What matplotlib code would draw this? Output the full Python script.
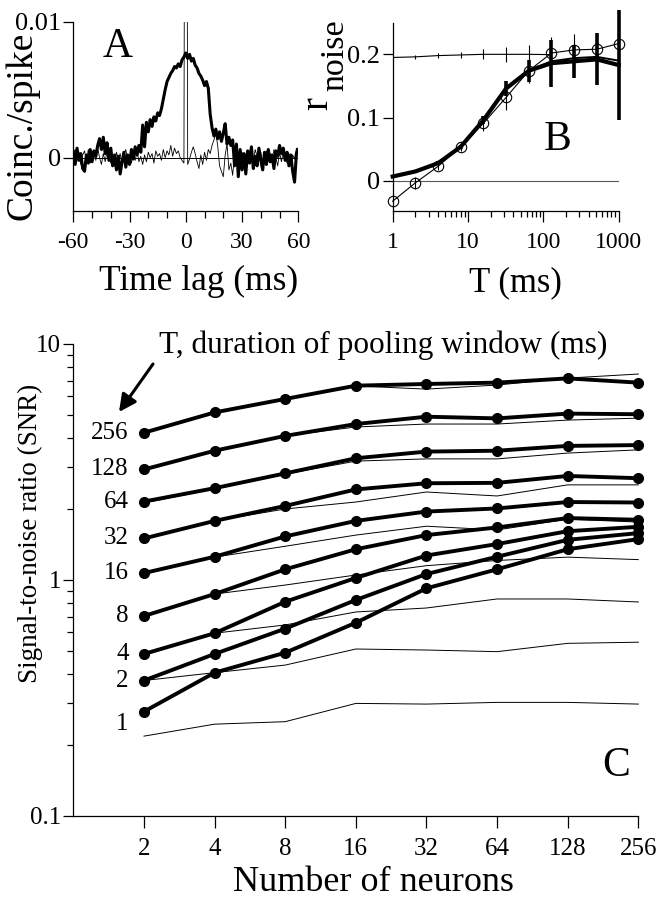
import numpy as np
import matplotlib
matplotlib.use("Agg")
import matplotlib.pyplot as plt
from matplotlib.ticker import FixedLocator, NullFormatter, LogLocator

plt.rcParams['font.family'] = ['Liberation Serif', 'DejaVu Serif']

W, H = 664, 900

# panel A: cross-correlogram, 1 ms bins, values in 1e-3 coinc./spike
lag_ms = list(range(-60, 61))
ccg_thick = [0.4, -0.5, 0.7, -0.2, 0.3, -0.8, -1.0, 0.2, -0.4, 0.6,
             -0.3, 0.5, 0.1, 0.9, 1.4, 0.6, 1.5, 0.3, 1.1, -0.2,
             0.7, -0.6, 0.2, -0.9, 0.1, -1.2, -0.3, 0.4, -0.7, 0.2,
             -0.5, 0.6, -0.1, 0.8, 0.2, 0.9, 0.4, 2.4, 0.8, 2.6,
             1.9, 2.8, 2.3, 3.0, 2.7, 3.3, 3.1, 3.6, 4.3, 5.0,
             5.6, 5.9, 6.2, 6.4, 6.7, 6.6, 6.9, 6.7, 7.2, 7.4,
             7.7, 7.3, 7.6, 7.1, 7.3, 6.8, 6.6, 6.2, 6.0, 5.7,
             5.3, 5.6, 5.1, 3.2, 2.2, 1.6, 2.1, 1.4, 1.9, 1.2,
             1.8, 2.5, 1.0, 1.5, 0.9, 1.3, -0.6, 1.0, -1.4, 0.6,
             -0.9, 0.3, -1.2, 0.5, -0.4, 0.8, -0.8, 0.1, -0.6, 0.7,
             -0.2, -0.9, 0.4, -0.5, 0.6, -0.3, 0.2, -0.8, 0.5, 0.1,
             0.9, 0.3, 0.7, -0.2, 0.4, -0.6, 0.2, -1.0, -1.8, 0.3, 0.6]
ccg_thin = [0.3, 0.6, -0.2, 0.4, -0.5, 0.2, 0.5, -0.3, 0.6, -0.4,
            0.1, 0.4, -0.2, 0.7, 0.0, -0.5, 0.3, -0.3, 0.5, 0.1,
            -0.4, 0.2, -0.6, 0.4, -0.1, 0.3, -0.5, 0.2, 0.6, -0.2,
            0.1, -0.4, 0.3, -0.2, 0.5, -0.3, 0.1, -0.5, 0.2, -0.3,
            0.4, 0.0, 0.3, -0.4, 0.5, 0.1, 0.3, -0.2, 0.6, 0.0,
            0.5, 0.2, 0.9, 0.1, 0.7, 0.3, 0.5, 0.0, -0.2, -0.4,
            60.0, -0.5, -0.1, 0.4, 0.8, 0.3, -0.3, -0.8, 0.2, -0.5,
            0.4, -0.2, 0.6, 0.3, 0.9, 1.3, 1.8, 0.9, -0.6, -1.0,
            -1.4, 0.2, 1.0, -0.9, -0.4, -1.3, 0.3, -0.6, 0.2, -0.3,
            0.4, -0.1, 0.3, -0.4, 0.5, 0.0, -0.3, 0.6, 0.1, -0.2,
            0.4, -0.5, 0.2, 0.5, -0.1, 0.3, -0.4, 0.6, 0.0, -0.6,
            0.4, -0.3, 0.5, 0.1, -0.4, 0.3, -0.5, 0.2, -0.1, 0.7, 0.4]

# panel B: r_noise vs pooling window T
T_ms = [1, 2, 4, 8, 16, 32, 64, 128, 256, 512, 1000]
r_thick = [0.007, 0.015, 0.028, 0.054, 0.096, 0.146, 0.174, 0.186, 0.189, 0.192, 0.183]
r_thick_err = [0, 0, 0, 0.003, 0.006, 0.012, 0.017, 0.037, 0.026, 0.041, 0.087]
r_thick2 = [0.007, 0.015, 0.028, 0.054, 0.096, 0.146, 0.175, 0.189, 0.194, 0.196, 0.190]
r_circ = [-0.032, -0.003, 0.023, 0.054, 0.091, 0.132, 0.174, 0.202, 0.207, 0.208, 0.217]
r_circ_err = [0, 0.010, 0.006, 0.007, 0.012, 0.020, 0.020, 0.025, 0.025, 0.015, 0]
T_flat = [1, 2, 4, 8, 16, 32, 64, 128]
r_flat = [0.195, 0.196, 0.198, 0.199, 0.200, 0.200, 0.200, 0.1995]
r_flat_err = [0, 0.003, 0.004, 0.005, 0.008, 0.012, 0.015, 0.015]

# panel C: SNR vs number of neurons, one pair of curves per window T
n_neurons = [2, 4, 8, 16, 32, 64, 128, 256]
windows = [256, 128, 64, 32, 16, 8, 4, 2, 1]
snr_256 = [4.21, 5.13, 5.85, 6.66, 6.77, 6.86, 7.15, 6.86]
snr_128 = [2.94, 3.53, 4.08, 4.58, 4.92, 4.84, 5.07, 5.04]
snr_64 = [2.15, 2.45, 2.83, 3.28, 3.50, 3.53, 3.70, 3.73]
snr_32 = [1.50, 1.78, 2.06, 2.42, 2.57, 2.58, 2.76, 2.70]
snr_16 = [1.07, 1.255, 1.53, 1.78, 1.95, 2.01, 2.14, 2.13]
snr_8 = [0.704, 0.872, 1.11, 1.35, 1.55, 1.67, 1.83, 1.80]
snr_4 = [0.486, 0.595, 0.809, 1.02, 1.27, 1.42, 1.61, 1.68]
snr_2 = [0.375, 0.486, 0.622, 0.823, 1.06, 1.255, 1.48, 1.58]
snr_1 = [0.277, 0.405, 0.492, 0.659, 0.922, 1.11, 1.35, 1.49]
thin_256 = [4.2, 5.14, 5.85, 6.64, 6.44, 6.7, 7.17, 7.46]
thin_128 = [2.94, 3.53, 4.08, 4.45, 4.58, 4.58, 4.76, 4.85]
thin_64 = [2.12, 2.43, 2.81, 3.19, 3.26, 3.26, 3.45, 3.56]
thin_32 = [1.50, 1.78, 2.0, 2.14, 2.36, 2.27, 2.53, 2.53]
thin_16 = [1.06, 1.25, 1.39, 1.55, 1.69, 1.63, 1.81, 1.76]
thin_8 = [0.704, 0.872, 0.952, 1.05, 1.15, 1.21, 1.25, 1.22]
thin_4 = [0.486, 0.595, 0.645, 0.732, 0.761, 0.831, 0.831, 0.807]
thin_2 = [0.375, 0.405, 0.436, 0.510, 0.505, 0.497, 0.539, 0.545]
thin_1 = [0.218, 0.245, 0.251, 0.300, 0.298, 0.303, 0.303, 0.298]

snr_thick = [snr_256, snr_128, snr_64, snr_32, snr_16, snr_8, snr_4, snr_2, snr_1]
snr_thin = [thin_256, thin_128, thin_64, thin_32, thin_16, thin_8, thin_4, thin_2, thin_1]


def fx(x):
    return x / W


def fy(y):
    return 1 - y / H


def rect(left, top, right, bottom):
    return [fx(left), fy(bottom), (right - left) / W, (bottom - top) / H]


def clean(ax):
    ax.spines['top'].set_visible(False)
    ax.spines['right'].set_visible(False)
    for s in ('left', 'bottom'):
        ax.spines[s].set_linewidth(0.9)
    ax.tick_params(which='both', direction='out', width=0.9, color='k')


fig = plt.figure(figsize=(W / 100, H / 100), dpi=100)

# ---------- A
axA = fig.add_axes(rect(73.3, 21.7, 298.3, 210.7))
clean(axA)
lag = np.array(lag_ms)
axA.plot([-60, 60], [0, 0], color='k', lw=0.7)
axA.plot(lag, np.array(ccg_thin) * 1e-3, color='k', lw=0.6)
axA.plot(lag, np.array(ccg_thick) * 1e-3, color='k', lw=2.2)
axA.set_xlim(-60, 60)
axA.set_ylim(-0.0039, 0.01)
axA.set_xticks([-60, -30, 0, 30, 60])
axA.set_xticklabels(['-60', '-30', '0', '30', '60'], fontsize=17)
axA.xaxis.set_minor_locator(FixedLocator([-50, -40, -20, -10, 10, 20, 40, 50]))
axA.set_yticks([0, 0.01])
axA.set_yticklabels(['0', '0.01'], fontsize=19)
axA.tick_params(axis='x', which='major', length=8, pad=7)
axA.tick_params(axis='x', which='minor', length=5)
axA.tick_params(axis='y', length=7, pad=2)
fig.text(fx(198.8), fy(290), 'Time lag (ms)', fontsize=25.5, ha='center', va='baseline')
fig.text(fx(22), fy(126), 'Coinc./spike', fontsize=27, rotation=90, ha='center', va='center')
fig.text(fx(118), fy(47), 'A', fontsize=30, ha='center', va='center')

# ---------- B
axB = fig.add_axes(rect(392.7, 23.3, 618.7, 210.7))
clean(axB)
axB.set_xscale('log')
axB.plot([1, 1000], [0, 0], color='0.35', lw=0.8)
axB.errorbar(T_flat, r_flat, yerr=r_flat_err, color='k', lw=0.8, elinewidth=0.8, capsize=0)
axB.errorbar(T_ms, r_circ, yerr=r_circ_err, color='k', lw=0.8, elinewidth=0.8, capsize=0,
             marker='o', ms=7.5, mfc='none', mec='k', mew=0.8, clip_on=False)
axB.plot(T_ms, r_thick2, color='k', lw=1.4)
axB.errorbar(T_ms, r_thick, yerr=r_thick_err, color='k', lw=3.0, elinewidth=2.6, capsize=0,
             clip_on=False)
axB.set_xlim(1, 1000)
axB.set_ylim(-0.047, 0.249)
axB.xaxis.set_major_locator(FixedLocator([1, 10, 100, 1000]))
axB.set_xticklabels(['1', '10', '100', '1000'], fontsize=17)
axB.xaxis.set_minor_locator(LogLocator(base=10, subs=np.arange(2, 10)))
axB.xaxis.set_minor_formatter(NullFormatter())
axB.set_yticks([0, 0.1, 0.2])
axB.set_yticklabels(['0', '0.1', '0.2'], fontsize=19)
axB.tick_params(axis='x', which='major', length=8, pad=7)
axB.tick_params(axis='x', which='minor', length=4.5)
axB.tick_params(axis='y', length=7, pad=2)
fig.text(fx(515), fy(291), 'T (ms)', fontsize=25, ha='center', va='baseline')
fig.text(fx(318), fy(104), 'r', fontsize=28, rotation=90, ha='center', va='center')
fig.text(fx(334.5), fy(55), 'noise', fontsize=24.5, rotation=90, ha='center', va='center')
fig.text(fx(558), fy(140), 'B', fontsize=30, ha='center', va='center')

# ---------- C
axC = fig.add_axes(rect(73.4, 344, 638.3, 816))
clean(axC)
axC.set_xscale('log', base=2)
axC.set_yscale('log')
for thin in snr_thin:
    axC.plot(n_neurons, thin, color='k', lw=0.7, clip_on=False)
for thick in snr_thick:
    axC.plot(n_neurons, thick, color='k', lw=2.8, marker='o', ms=7, clip_on=False)
for T, thick, thin in zip(windows, snr_thick, snr_thin):
    y = thick[0] if T > 1 else np.sqrt(thick[0] * thin[0])
    axC.annotate(str(T), xy=(2, y), xytext=(-11, 0), textcoords='offset points',
                 ha='right', va='center', fontsize=18)
axC.set_xlim(1, 256)
axC.set_ylim(0.1, 10)
axC.xaxis.set_major_locator(FixedLocator(n_neurons))
axC.set_xticklabels([str(n) for n in n_neurons], fontsize=18)
axC.xaxis.set_minor_locator(FixedLocator([]))
axC.yaxis.set_major_locator(FixedLocator([0.1, 1, 10]))
axC.set_yticklabels(['0.1', '1', '10'], fontsize=18)
axC.yaxis.set_minor_locator(LogLocator(base=10, subs=np.arange(2, 10)))
axC.yaxis.set_minor_formatter(NullFormatter())
axC.tick_params(axis='x', length=8.5, pad=7)
axC.tick_params(axis='y', which='major', length=7, pad=2)
axC.tick_params(axis='y', which='minor', length=4)
fig.text(fx(373), fy(899), 'Number of neurons', fontsize=26, ha='center', va='bottom')
fig.text(fx(30), fy(533), 'Signal-to-noise ratio (SNR)', fontsize=19.5, rotation=90,
         ha='center', va='center')
fig.text(fx(383.5), fy(353), 'T, duration of pooling window (ms)', fontsize=22.5,
         ha='center', va='baseline')
axC.annotate('', xy=(fx(119), fy(412)), xycoords='figure fraction',
             xytext=(fx(153), fy(364)), textcoords='figure fraction',
             arrowprops=dict(arrowstyle='-|>', color='k', lw=2.2, mutation_scale=26,
                             shrinkA=0, shrinkB=0))
fig.text(fx(616), fy(766), 'C', fontsize=30, ha='center', va='center')

fig.savefig('out.png', dpi=100)
